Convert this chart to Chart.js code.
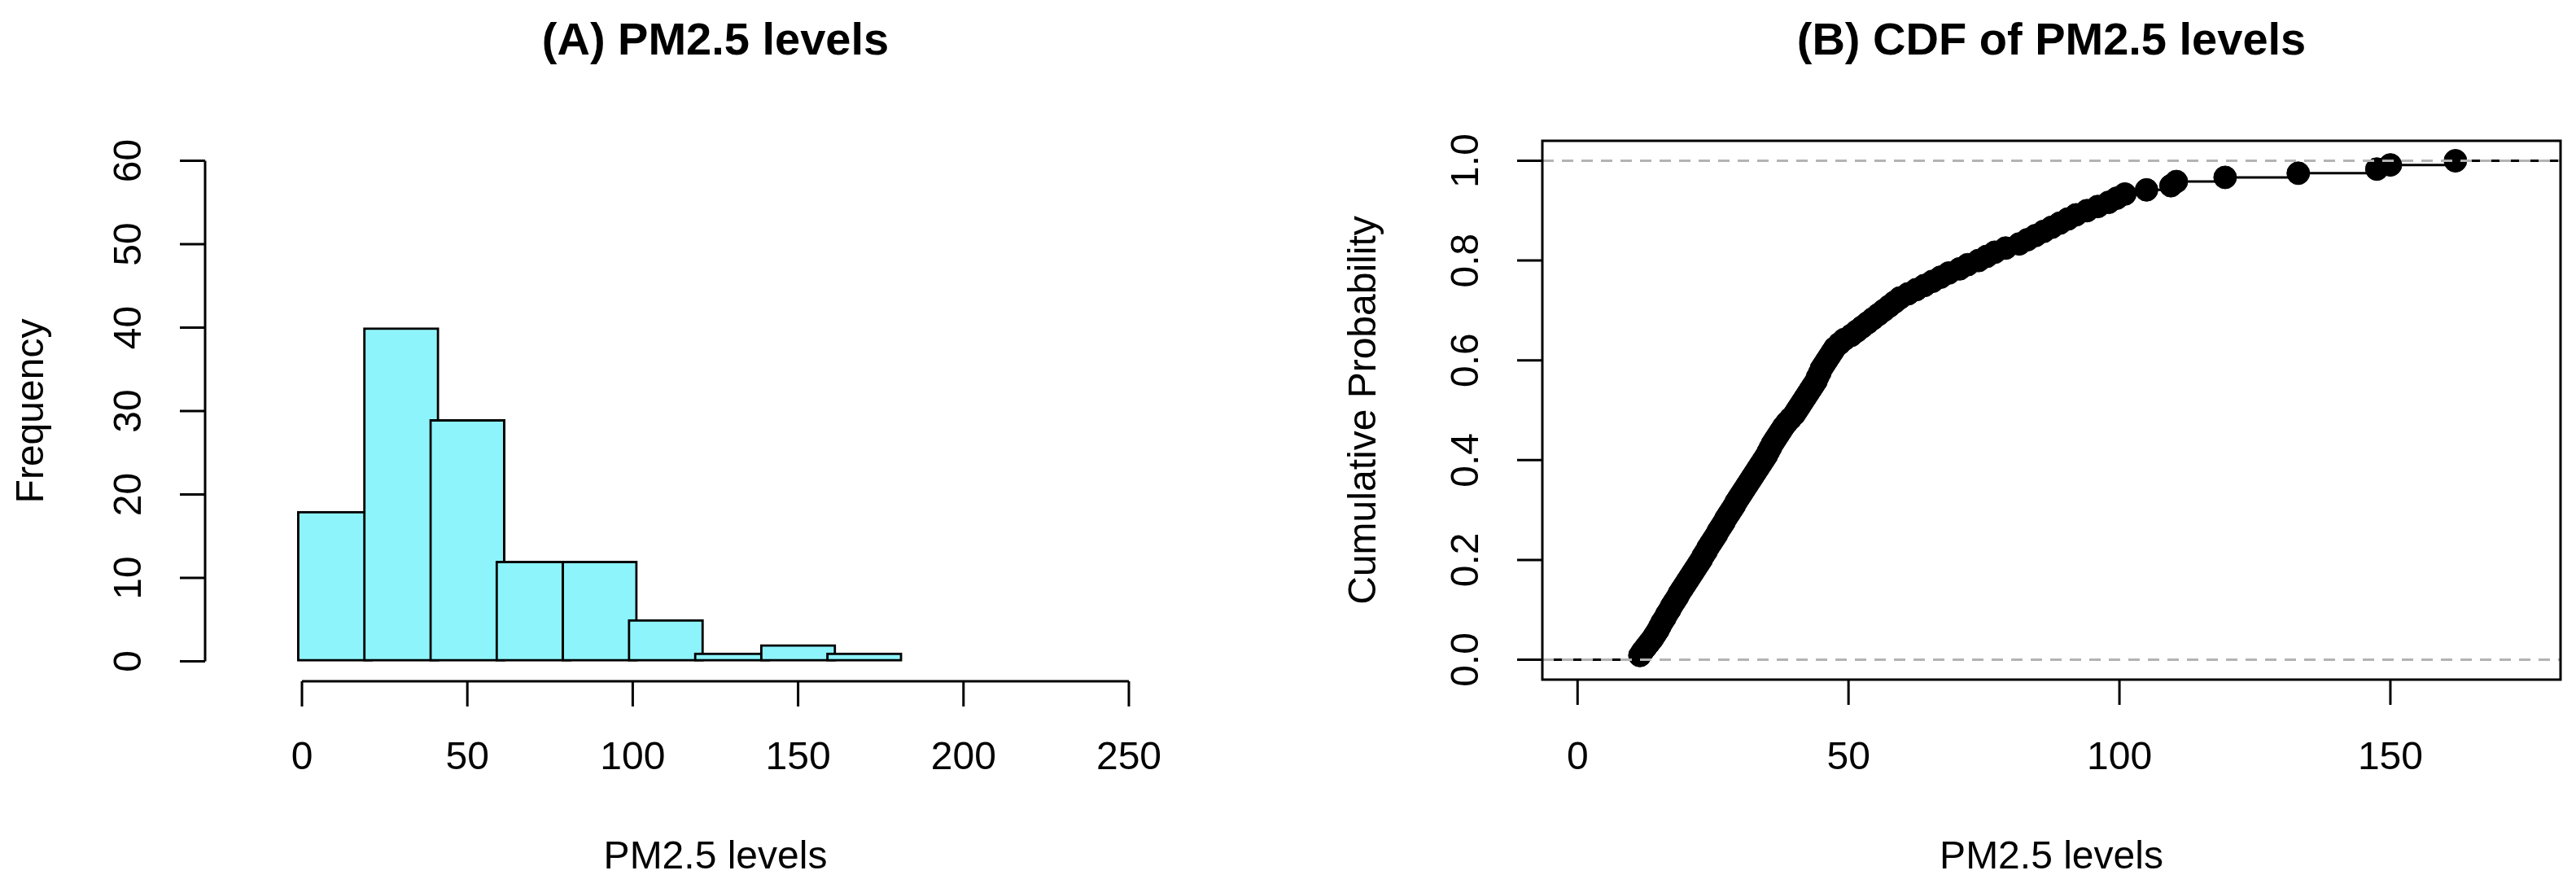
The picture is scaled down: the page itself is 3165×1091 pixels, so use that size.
<!DOCTYPE html>
<html>
<head>
<meta charset="utf-8">
<script src="https://cdn.jsdelivr.net/npm/chart.js@4/dist/chart.umd.min.js"></script>
<style>
  body { margin: 0; background: #fff; }
  canvas { position: absolute; top: 0; }
</style>
</head>
<body>
<canvas id="hist" width="1580" height="1091" style="left:0"></canvas>
<canvas id="cdf" width="1585" height="1091" style="left:1580px"></canvas>
<script>
// histogram bins (PM2.5) and counts
const binEdges = [0, 20, 40, 60, 80, 100, 120, 140, 160, 180];
const binCounts = [18, 40, 29, 12, 12, 5, 1, 2, 1];
const histXTicks = [0, 50, 100, 150, 200, 250];
const histYTicks = [0, 10, 20, 30, 40, 50, 60];

// sorted PM2.5 values, estimated from panel B
const pmValues = [
  11.5, 12, 12.6, 13.2, 13.8, 14.3, 14.8, 15.2, 15.6, 16.1, 16.5, 17, 17.4, 17.9, 18.4, 18.8, 19.3, 19.8,
  20.3, 20.8, 21.3, 21.8, 22.3, 22.8, 23.2, 23.7, 24.1, 24.6, 25.1, 25.6, 26, 26.5, 27, 27.4, 27.9, 28.4,
  28.9, 29.3, 29.8, 30.3, 30.8, 31.3, 31.8, 32.3, 32.8, 33.3, 33.8, 34.3, 34.8, 35.2, 35.6, 36, 36.5, 37,
  37.5, 38, 38.6, 39.3,
  40, 40.5, 41, 41.5, 42, 42.5, 43, 43.5, 44, 44.3, 44.7, 45, 45.5, 46, 46.5, 47, 47.5, 48.3, 49.2,
  50.5, 51.5, 52.5, 53.5, 54.5, 55.5, 56.5, 57.5, 58.5, 59.5,
  61, 62.5, 64, 65.5, 67, 68.5, 70.5, 72, 74, 75.5, 77, 79,
  81.5, 83, 84.5, 86, 87.5, 89, 90.5, 92, 94, 96, 98, 99.5,
  101, 105, 109.5, 110.5, 119.5,
  133, 147.5, 150, 162
];
const cdfXTicks = [0, 50, 100, 150];
const cdfYTicks = [0, 0.2, 0.4, 0.6, 0.8, 1.0];

const FONT = '"Liberation Sans", Arial, sans-serif';

// R-style axes: line from first to last tick, outward ticks, rotated y labels
function rAxesPlugin(opts) {
  return {
    id: 'rAxes',
    afterDraw(chart) {
      const ctx = chart.ctx;
      const xs = chart.scales.x, ys = chart.scales.y;
      const a = chart.chartArea;
      ctx.save();
      ctx.strokeStyle = '#000';
      ctx.fillStyle = '#000';
      ctx.lineWidth = 3;
      if (opts.box) ctx.strokeRect(a.left, a.top, a.right - a.left, a.bottom - a.top);

      // x axis
      const xp = opts.xTicks.map(v => xs.getPixelForValue(v));
      ctx.beginPath();
      if (!opts.box) { ctx.moveTo(xp[0], a.bottom); ctx.lineTo(xp[xp.length - 1], a.bottom); }
      xp.forEach(p => { ctx.moveTo(p, a.bottom); ctx.lineTo(p, a.bottom + 31); });
      // y axis
      const yp = opts.yTicks.map(v => ys.getPixelForValue(v));
      if (!opts.box) { ctx.moveTo(a.left, yp[0]); ctx.lineTo(a.left, yp[yp.length - 1]); }
      yp.forEach(p => { ctx.moveTo(a.left, p); ctx.lineTo(a.left - 31, p); });
      ctx.stroke();

      ctx.font = '48px ' + FONT;
      ctx.textAlign = 'center';
      ctx.textBaseline = 'middle';
      opts.xTicks.forEach((v, i) => ctx.fillText(String(v), xp[i], 932));
      opts.yTicks.forEach((v, i) => {
        ctx.save();
        ctx.translate(a.left - 92, yp[i]);
        ctx.rotate(-Math.PI / 2);
        ctx.fillText(opts.yFmt(v), 0, 0);
        ctx.restore();
      });

      // titles
      const cx = (a.left + a.right) / 2;
      ctx.fillText(opts.xTitle, cx, 1054);
      ctx.save();
      ctx.translate(opts.yTitleX, (a.top + a.bottom) / 2);
      ctx.rotate(-Math.PI / 2);
      ctx.fillText(opts.yTitle, 0, 0);
      ctx.restore();
      ctx.font = 'bold 56px ' + FONT;
      ctx.fillText(opts.title, cx, 52);
      ctx.restore();
    }
  };
}

const histData = binCounts.map((c, i) => ({ x: (binEdges[i] + binEdges[i + 1]) / 2, y: c }));

new Chart(document.getElementById('hist'), {
  type: 'bar',
  data: {
    datasets: [{
      data: histData,
      backgroundColor: '#8EF4FC',
      borderColor: '#000',
      borderWidth: 3,
      borderSkipped: false,
      barPercentage: 1.0,
      categoryPercentage: 1.0,
      barThickness: 20 * (1254 / 270)
    }]
  },
  options: {
    responsive: false,
    devicePixelRatio: 1,
    animation: false,
    layout: { padding: { left: 252, right: 1580 - 1506, top: 173, bottom: 1091 - 837 } },
    plugins: { legend: { display: false }, tooltip: { enabled: false } },
    scales: {
      x: { type: 'linear', min: -10, max: 260, display: false },
      y: { min: -2.4, max: 62.4, display: false }
    }
  },
  plugins: [rAxesPlugin({
    box: false, xTicks: histXTicks, yTicks: histYTicks, yFmt: v => String(v),
    title: '(A) PM2.5 levels', xTitle: 'PM2.5 levels', yTitle: 'Frequency', yTitleX: 40
  })]
});

const n = pmValues.length;
const cdfPoints = pmValues.map((v, i) => ({ x: v, y: (i + 1) / n }));
const xLim = [-6.5, 181.4];
const stepLine = [{ x: xLim[0], y: 0 }].concat(cdfPoints, [{ x: xLim[1], y: 1 }]);

new Chart(document.getElementById('cdf'), {
  type: 'scatter',
  data: {
    datasets: [
      {
        data: [{ x: xLim[0], y: 0 }, { x: xLim[1], y: 0 }],
        showLine: true, borderColor: '#B3B3B3', borderWidth: 3, borderDash: [14, 10],
        pointRadius: 0, order: 0
      },
      {
        data: [{ x: xLim[0], y: 1 }, { x: xLim[1], y: 1 }],
        showLine: true, borderColor: '#B3B3B3', borderWidth: 3, borderDash: [14, 10],
        pointRadius: 0, order: 0
      },
      {
        data: cdfPoints,
        backgroundColor: '#000', borderColor: '#000',
        pointRadius: 14, pointHoverRadius: 14, order: 1
      },
      {
        data: stepLine,
        showLine: true, stepped: true, borderColor: '#000', borderWidth: 3,
        pointRadius: 0, order: 2
      }
    ]
  },
  options: {
    responsive: false,
    devicePixelRatio: 1,
    animation: false,
    layout: { padding: { left: 1895 - 1580, right: 3165 - 3146, top: 173, bottom: 1091 - 835 } },
    plugins: { legend: { display: false }, tooltip: { enabled: false } },
    scales: {
      x: { type: 'linear', min: xLim[0], max: xLim[1], display: false },
      y: { min: -0.04, max: 1.04, display: false }
    }
  },
  plugins: [rAxesPlugin({
    box: true, xTicks: cdfXTicks, yTicks: cdfYTicks, yFmt: v => v.toFixed(1),
    title: '(B) CDF of PM2.5 levels', xTitle: 'PM2.5 levels', yTitle: 'Cumulative Probability', yTitleX: 97
  })]
});
</script>
</body>
</html>
